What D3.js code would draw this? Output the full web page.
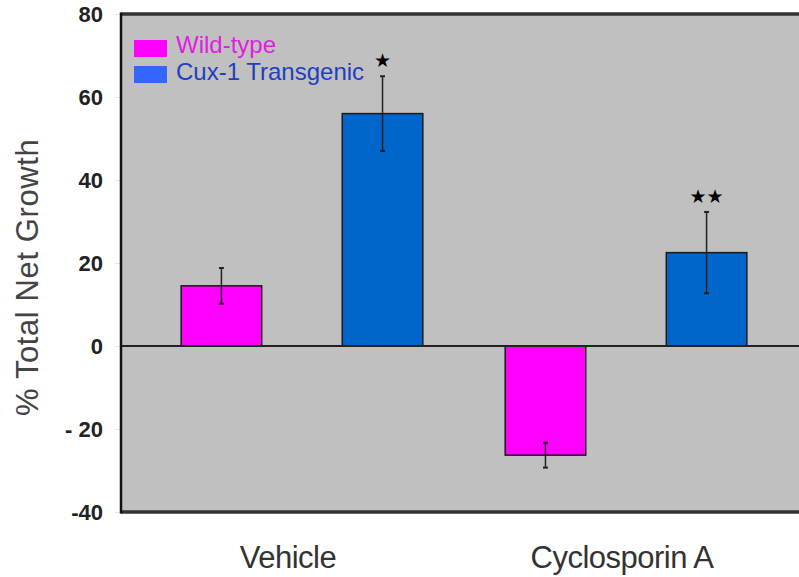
<!DOCTYPE html>
<html>
<head>
<meta charset="utf-8">
<script src="https://cdn.jsdelivr.net/npm/d3@7"></script>
<style>
  body { margin: 0; background: #fff; }
  svg { display: block; }
</style>
</head>
<body>
<div id="chart"></div>
<script>
// Dữ liệu
const groups = ["Vehicle", "Cyclosporin A"];
const series = ["Wild-type", "Cux-1 Transgenic"];
const wildType = [14.5, -26.3];
const transgenic = [56, 22.5];
const wildErr = [4.3, 3];
const transErr = [9, 9.8];
const stars = ["", "★", "", "★★"];
const yTicks = [80, 60, 40, 20, 0, -20, -40];
const yTickLabels = ["80", "60", "40", "20", "0", "- 20", "-40"];

const fullWidth = 799, fullHeight = 577;
const margin = { top: 14, right: -8, bottom: 65, left: 121 };
const width = fullWidth - margin.left - margin.right;
const height = fullHeight - margin.top - margin.bottom;

const data = [];
groups.forEach((g, i) => {
    data.push({ group: g, serie: series[0], value: wildType[i], err: wildErr[i] });
    data.push({ group: g, serie: series[1], value: transgenic[i], err: transErr[i] });
});
data.forEach((d, i) => d.star = stars[i]);

const svg = d3.select("#chart").append("svg")
    .attr("width", fullWidth)
    .attr("height", fullHeight);

const g = svg.append("g")
    .attr("transform", `translate(${margin.left},${margin.top})`);

const x0 = d3.scaleBand().domain(groups).range([0, width]).padding(0.117);
const x1 = d3.scaleBand().domain(series).range([0, x0.bandwidth()])
    .paddingInner(0.5).paddingOuter(0.138);
const y = d3.scaleLinear().domain([-40, 80]).range([height, 0]);

const color = d3.scaleOrdinal().domain(series).range(["#ff00ff", "#0066cc"]);

// Nền xám của vùng vẽ
g.append("rect")
    .attr("width", width)
    .attr("height", height)
    .attr("fill", "#c0c0c0");

// Trục Y
const yAxis = g.append("g")
    .call(d3.axisLeft(y).tickValues(yTicks).tickSize(6).tickPadding(12)
        .tickFormat((d, i) => yTickLabels[i]));
yAxis.select(".domain").remove();
yAxis.selectAll("line").attr("stroke", "#e6e6e6");
yAxis.selectAll("text")
    .style("font-family", "Liberation Sans, Arial, sans-serif")
    .style("font-size", "22px")
    .style("font-weight", "bold")
    .style("fill", "#222");

// Các cột
const bars = g.selectAll(".bar")
    .data(data)
    .enter()
    .append("g")
    .attr("transform", d => `translate(${x0(d.group) + x1(d.serie)},0)`);

bars.append("rect")
    .attr("y", d => y(Math.max(0, d.value)))
    .attr("width", x1.bandwidth())
    .attr("height", d => Math.abs(y(d.value) - y(0)))
    .attr("fill", d => color(d.serie))
    .attr("stroke", "#1a1a1a")
    .attr("stroke-width", 1.5);

// Thanh sai số
const cx = x1.bandwidth() / 2;
bars.append("line")
    .attr("x1", cx).attr("x2", cx)
    .attr("y1", d => y(d.value + d.err))
    .attr("y2", d => y(d.value - d.err))
    .attr("stroke", "#222")
    .attr("stroke-width", 1.5);
[1, -1].forEach(s => {
    bars.append("line")
        .attr("x1", cx - 2.5).attr("x2", cx + 2.5)
        .attr("y1", d => y(d.value + s * d.err))
        .attr("y2", d => y(d.value + s * d.err))
        .attr("stroke", "#222")
        .attr("stroke-width", 2);
});

// Dấu sao
bars.append("text")
    .attr("x", cx)
    .attr("y", d => y(d.value + d.err) - 9)
    .attr("text-anchor", "middle")
    .style("font-family", "DejaVu Sans, sans-serif")
    .style("font-size", "19px")
    .style("fill", "#000")
    .text(d => d.star);

// Đường 0 và viền
g.append("line")
    .attr("x1", 0).attr("x2", width)
    .attr("y1", y(0)).attr("y2", y(0))
    .attr("stroke", "#222").attr("stroke-width", 2);
g.append("line")
    .attr("x1", 0).attr("x2", width)
    .attr("y1", 0).attr("y2", 0)
    .attr("stroke", "#333").attr("stroke-width", 3.5);
g.append("line")
    .attr("x1", 0).attr("x2", width)
    .attr("y1", height).attr("y2", height)
    .attr("stroke", "#333").attr("stroke-width", 3.5);
g.append("line")
    .attr("x1", 0).attr("x2", 0)
    .attr("y1", -1.5).attr("y2", height + 1.5)
    .attr("stroke", "#111").attr("stroke-width", 2.5);

// Nhãn nhóm trục X
g.selectAll(".glabel")
    .data(groups)
    .enter()
    .append("text")
    .attr("x", (d, i) => x0(d) + x0.bandwidth() / 2 + (i === 0 ? -14 : -4))
    .attr("y", height + 56)
    .attr("text-anchor", "middle")
    .style("font-family", "Liberation Sans, Arial, sans-serif")
    .style("font-size", "31px")
    .style("letter-spacing", "-0.5px")
    .style("fill", "#333")
    .text(d => d);

// Tiêu đề trục Y
svg.append("text")
    .attr("transform", `translate(38,${margin.top + y(18) + 6}) rotate(-90)`)
    .attr("text-anchor", "middle")
    .style("font-family", "Liberation Sans, Arial, sans-serif")
    .style("font-size", "31px")
    .style("letter-spacing", "0.6px")
    .style("fill", "#444")
    .text("% Total Net Growth");

// Chú giải
const legendColors = ["#ff00ff", "#3366ff"];
const legendText = ["#e020e0", "#1f3fbf"];
const legend = svg.append("g").attr("transform", "translate(134,40)");
series.forEach((s, i) => {
    legend.append("rect")
        .attr("x", 0).attr("y", i * 26)
        .attr("width", 33).attr("height", 17)
        .attr("fill", legendColors[i]);
    legend.append("text")
        .attr("x", 42).attr("y", i * 27 + 13)
        .style("font-family", "Liberation Sans, Arial, sans-serif")
        .style("font-size", "24px")
        .style("fill", legendText[i])
        .text(s);
});
</script>
</body>
</html>
